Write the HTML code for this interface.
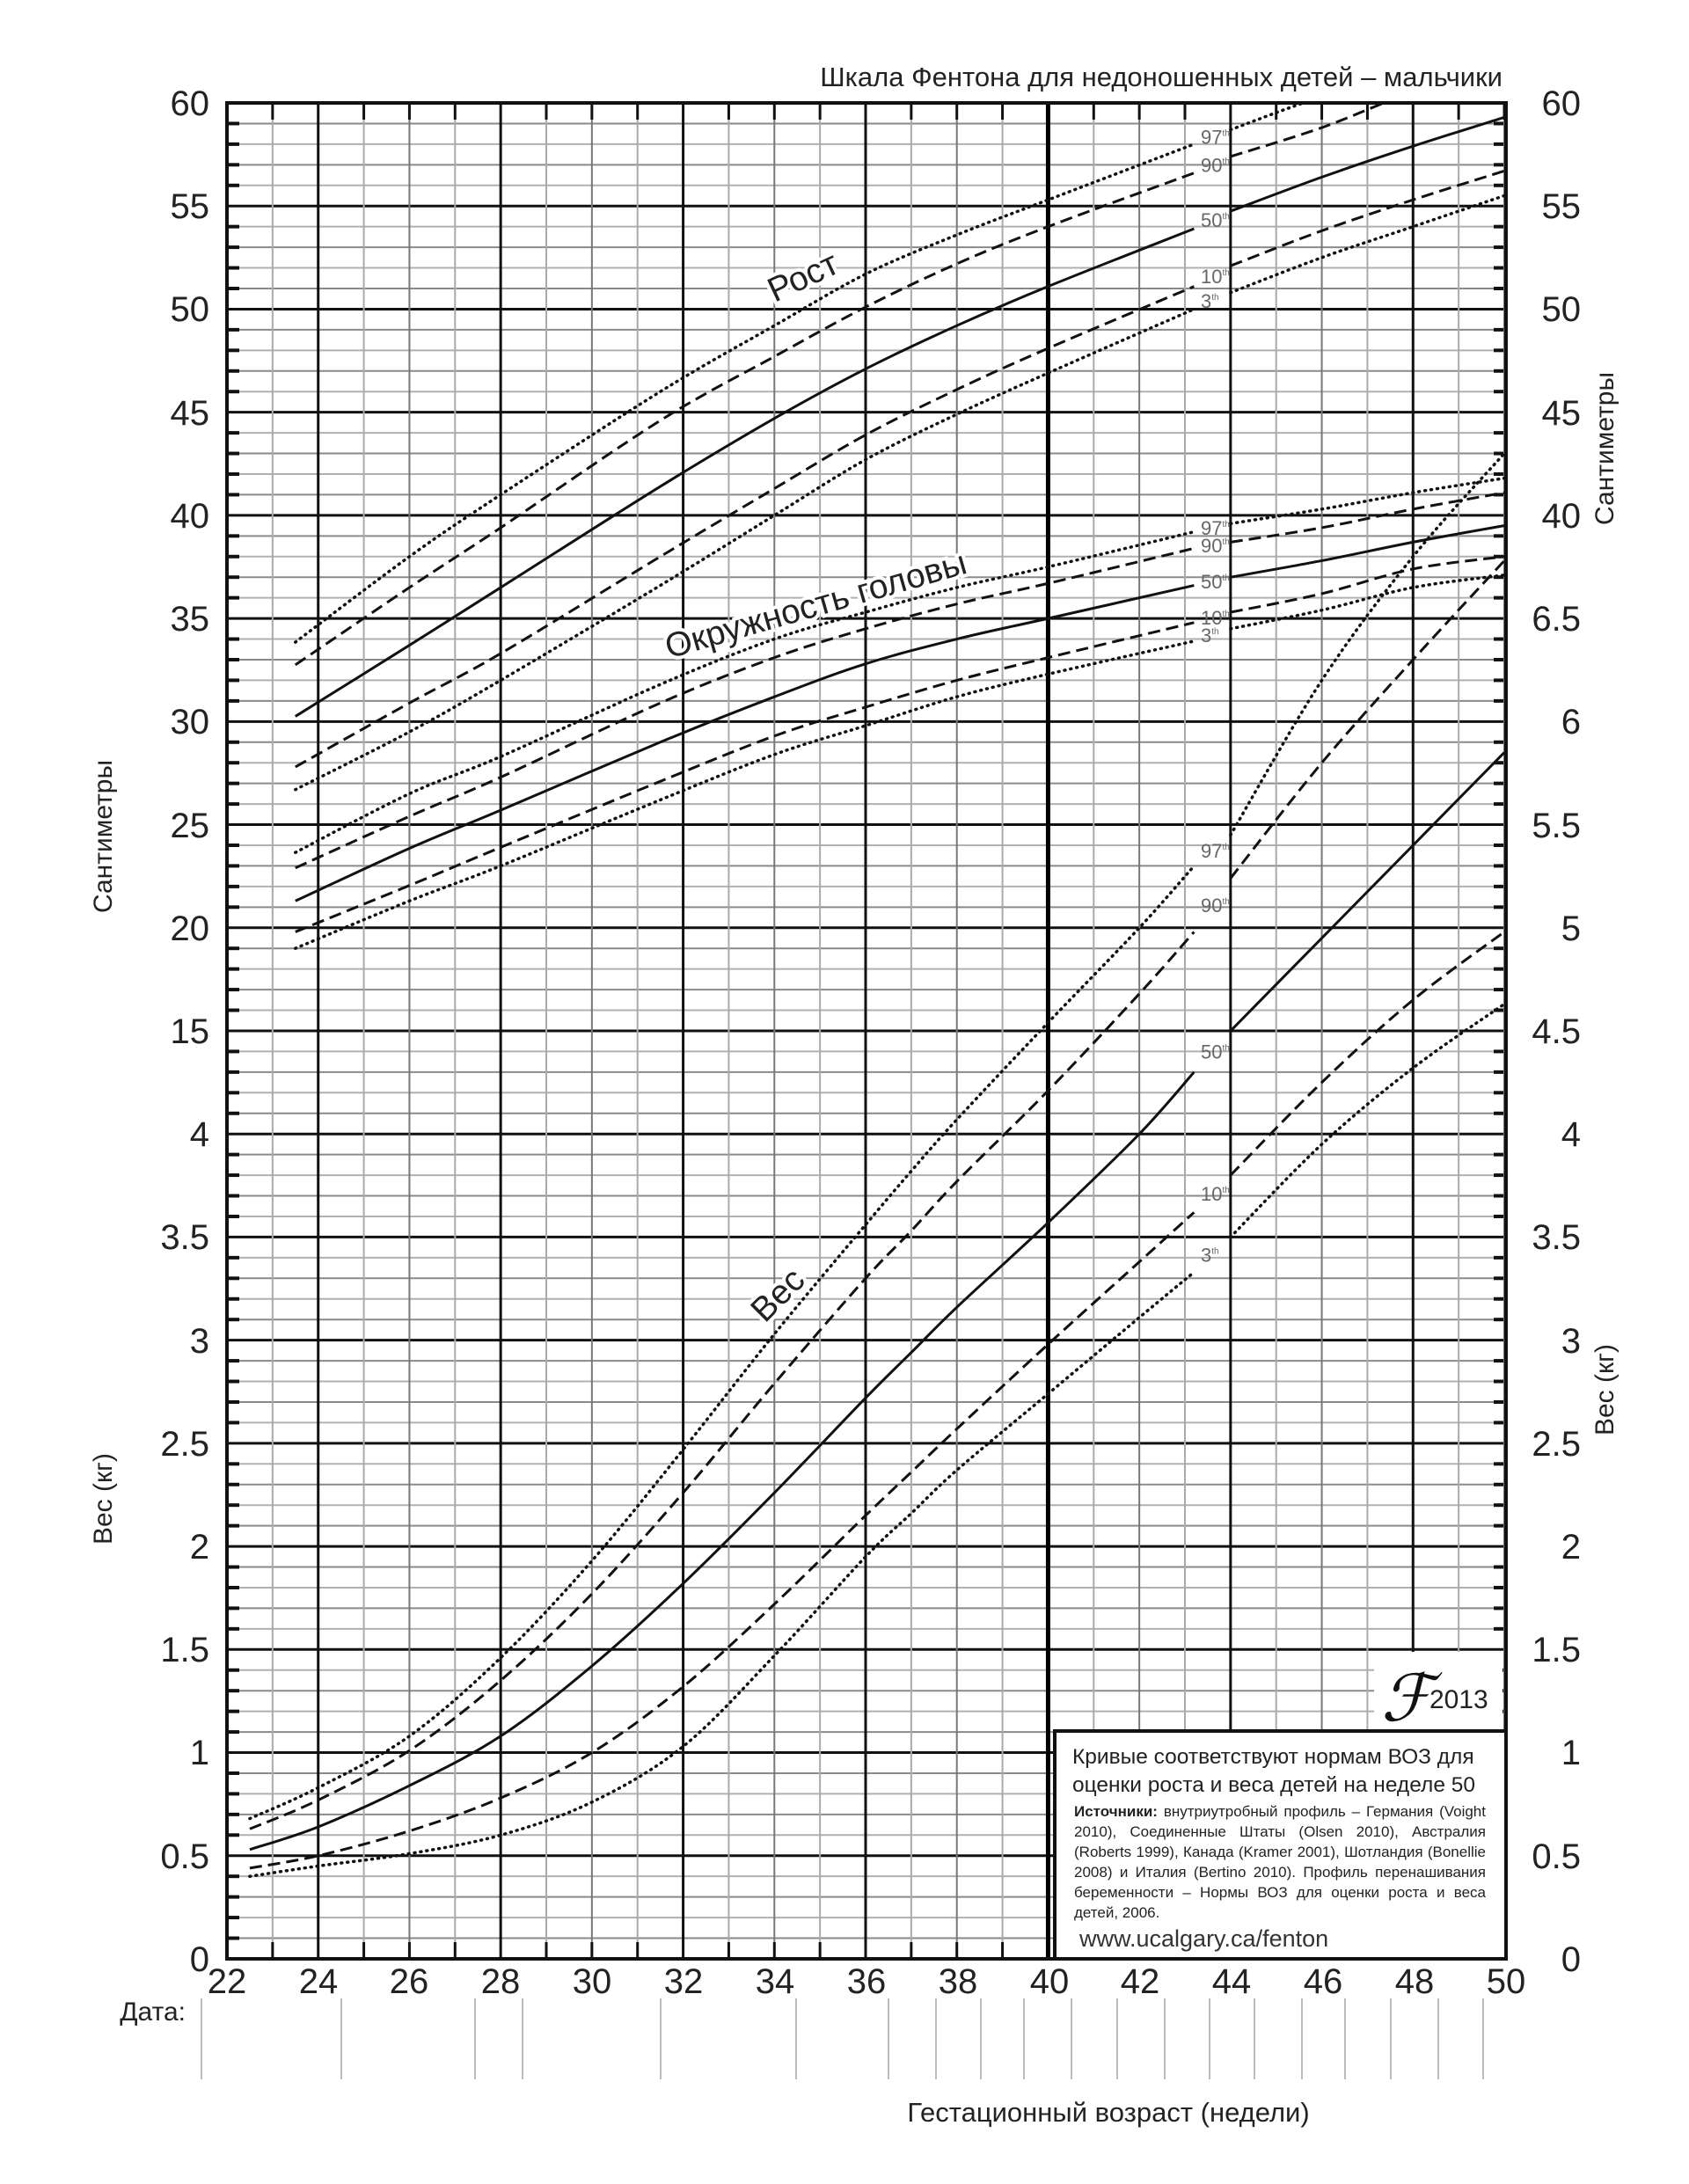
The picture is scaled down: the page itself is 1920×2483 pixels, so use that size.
<!DOCTYPE html>
<html><head><meta charset="utf-8"><style>
html,body{margin:0;padding:0;background:#fff;}
svg{display:block}
text{font-family:"Liberation Sans",Arial,sans-serif;}
.box{position:absolute;background:#fff;}
.big{position:absolute;left:18px;font:24.5px "Liberation Sans",sans-serif;color:#222;white-space:nowrap;}
.sm{position:absolute;left:20px;width:468px;font:17px "Liberation Sans Narrow","Liberation Sans",sans-serif;color:#222;text-align:justify;text-align-last:justify;white-space:nowrap;height:23px;line-height:23px}
</style></head><body>
<div style="position:relative;width:1920px;height:2483px;overflow:hidden">
<svg id="s" width="1920" height="2483" xmlns="http://www.w3.org/2000/svg">
<defs><clipPath id="cp"><rect x="258" y="117" width="1454" height="2110"/></clipPath></defs>
<g id="grid"></g>
<g id="curves" clip-path="url(#cp)"></g>
<rect x="1562" y="1878" width="146" height="88" fill="#fff"/>
<text x="1570" y="1956" font-family="Liberation Serif,serif" font-style="italic" font-size="74" fill="#111">&#x2131;</text>
<text x="1625" y="1942" font-size="30" fill="#222">2013</text>
<rect x="258" y="117" width="1454" height="2110" fill="none" stroke="#111" stroke-width="4"/>
<text x="1708" y="98" font-size="31" text-anchor="end" fill="#222">Шкала Фентона для недоношенных детей  – мальчики</text>
<text transform="translate(914,317) rotate(-25)" font-size="39" text-anchor="middle" dominant-baseline="middle" fill="#222" stroke="#fff" stroke-width="8" paint-order="stroke">Рост</text>
<text transform="translate(928,690) rotate(-16)" font-size="39" text-anchor="middle" dominant-baseline="middle" fill="#222" stroke="#fff" stroke-width="8" paint-order="stroke">Окружность головы</text>
<text transform="translate(886,1474) rotate(-45)" font-size="39" text-anchor="middle" dominant-baseline="middle" fill="#222" stroke="#fff" stroke-width="8" paint-order="stroke">Вес</text>
<text transform="translate(119,951) rotate(-90)" font-size="30" text-anchor="middle" dominant-baseline="middle" fill="#222">Сантиметры</text>
<text transform="translate(1826,510) rotate(-90)" font-size="30" text-anchor="middle" dominant-baseline="middle" fill="#222">Сантиметры</text>
<text transform="translate(119,1704) rotate(-90)" font-size="30" text-anchor="middle" dominant-baseline="middle" fill="#222">Вес (кг)</text>
<text transform="translate(1826,1580) rotate(-90)" font-size="30" text-anchor="middle" dominant-baseline="middle" fill="#222">Вес (кг)</text>
<text x="211" y="2297" font-size="30" text-anchor="end" fill="#222">Дата:</text>
<text x="1260" y="2412" font-size="31" text-anchor="middle" fill="#222">Гестационный возраст (недели)</text>
<g font-size="40" fill="#222" text-anchor="end">
<text x="238" y="131">60</text><text x="238" y="248">55</text><text x="238" y="365">50</text><text x="238" y="483">45</text><text x="238" y="600">40</text><text x="238" y="717">35</text><text x="238" y="834">30</text><text x="238" y="952">25</text><text x="238" y="1069">20</text><text x="238" y="1186">15</text>
<text x="238" y="1303">4</text><text x="238" y="1420">3.5</text><text x="238" y="1538">3</text><text x="238" y="1655">2.5</text><text x="238" y="1772">2</text><text x="238" y="1889">1.5</text><text x="238" y="2006">1</text><text x="238" y="2124">0.5</text><text x="238" y="2241">0</text>
<text x="1797" y="131">60</text><text x="1797" y="248">55</text><text x="1797" y="365">50</text><text x="1797" y="483">45</text><text x="1797" y="600">40</text><text x="1797" y="717">6.5</text><text x="1797" y="834">6</text><text x="1797" y="952">5.5</text><text x="1797" y="1069">5</text><text x="1797" y="1186">4.5</text>
<text x="1797" y="1303">4</text><text x="1797" y="1420">3.5</text><text x="1797" y="1538">3</text><text x="1797" y="1655">2.5</text><text x="1797" y="1772">2</text><text x="1797" y="1889">1.5</text><text x="1797" y="2006">1</text><text x="1797" y="2124">0.5</text><text x="1797" y="2241">0</text>
</g>
<g font-size="40" fill="#222" text-anchor="middle">
<text x="258" y="2266">22</text><text x="362" y="2266">24</text><text x="465" y="2266">26</text><text x="569" y="2266">28</text><text x="673" y="2266">30</text><text x="777" y="2266">32</text><text x="881" y="2266">34</text><text x="985" y="2266">36</text><text x="1089" y="2266">38</text><text x="1193" y="2266">40</text><text x="1296" y="2266">42</text><text x="1400" y="2266">44</text><text x="1504" y="2266">46</text><text x="1608" y="2266">48</text><text x="1712" y="2266">50</text>
</g>
<g id="pl" font-size="22" fill="#666"></g>
</svg>
<div class="box" style="border:4px solid #111;box-sizing:border-box;left:1197px;top:1966px;width:517px;height:263px">
<div class="big" style="top:14px">Кривые соответствуют нормам ВОЗ для</div>
<div class="big" style="top:46px">оценки роста и веса детей на неделе 50</div>
<div class="sm" style="top:78px"><b>Источники:</b> внутриутробный профиль – Германия (Voight</div>
<div class="sm" style="top:101px">2010), Соединенные Штаты (Olsen 2010), Австралия</div>
<div class="sm" style="top:124px">(Roberts 1999), Канада (Kramer 2001), Шотландия (Bonellie</div>
<div class="sm" style="top:147px">2008) и Италия (Bertino 2010). Профиль перенашивания</div>
<div class="sm" style="top:170px">беременности – Нормы ВОЗ для оценки роста и веса</div>
<div class="sm" style="top:193px;text-align-last:left">детей, 2006.</div>
<div class="big" style="top:219px;left:26px;font-size:27px;color:#333">www.ucalgary.ca/fenton</div>
</div>
</div>
<script>
var NS="http://www.w3.org/2000/svg";
function el(p,t,a){var e=document.createElementNS(NS,t);for(var k in a)e.setAttribute(k,a[k]);p.appendChild(e);return e;}
var X=function(w){return 258+(w-22)*51.857;};
var YC=function(c){return 117+(60-c)*23.444;};
var YK=function(k){return 2227-k*234.44;};
var g=document.getElementById('grid');
for(var i=0;i<=90;i++){var y=117+i*23.444;var maj=(i%5==0);
 el(g,'line',{x1:258,x2:1712,y1:y,y2:y,stroke:maj?'#111':(i%2?'#8a8a8a':'#b0b0b0'),'stroke-width':maj?3:2});
 if(!maj){el(g,'line',{x1:258,x2:272,y1:y,y2:y,stroke:'#111','stroke-width':4});el(g,'line',{x1:1698,x2:1712,y1:y,y2:y,stroke:'#111','stroke-width':4});}}
for(var w=22;w<=50;w++){var x=X(w);var c,sw;
 if(w==40){c='#000';sw=5;}else if(w%4==0){c='#111';sw=3;}else if(w%2==0){c='#777';sw=2;}else{c='#aaa';sw=2;}
 el(g,'line',{x1:x,x2:x,y1:117,y2:2227,stroke:c,'stroke-width':sw});
 if(w%4!=0){el(g,'line',{x1:x,x2:x,y1:117,y2:136,stroke:'#111','stroke-width':3});el(g,'line',{x1:x,x2:x,y1:2208,y2:2227,stroke:'#111','stroke-width':3});}}
[229,388,540,594,751,905,1010,1064,1115,1164,1218,1270,1324,1375,1426,1480,1529,1581,1635,1686].forEach(function(x){el(g,'line',{x1:x,x2:x,y1:2272,y2:2364,stroke:'#bbb','stroke-width':2});});
function path(pts){var d='M'+pts[0][0]+','+pts[0][1];
 for(var i=0;i<pts.length-1;i++){var p0=pts[i-1]||pts[i],p1=pts[i],p2=pts[i+1],p3=pts[i+2]||p2;
  var c1=[p1[0]+(p2[0]-p0[0])/6,p1[1]+(p2[1]-p0[1])/6],c2=[p2[0]-(p3[0]-p1[0])/6,p2[1]-(p3[1]-p1[1])/6];
  d+=' C'+c1+' '+c2+' '+p2;}return d;}
var cv=document.getElementById('curves');
var sty={s:{},d:{'stroke-dasharray':'14 7'},o:{'stroke-dasharray':'1 6','stroke-linecap':'round','stroke-width':3.5}};
function draw(ws,vals,Y,st){var pts=ws.map(function(w,i){return[X(w),Y(vals[i])];});
 var a=[],b=[];ws.forEach(function(w,i){if(w<=43.25)a.push(pts[i]);else b.push(pts[i]);});
 [a,b].forEach(function(p){if(p.length<2)return;var at={d:path(p),fill:'none',stroke:'#111','stroke-width':3};for(var k in sty[st])at[k]=sty[st][k];el(cv,'path',at);});}
var LW=[23.5,26,28,31.5,34,36,38,40,43.2,44,46,48,50];
var L={97:[33.85,38.0,41.0,46.0,49.2,51.7,53.6,55.3,58.0,58.7,60.3,61.5,62.5],90:[32.75,36.5,39.4,44.6,47.7,50.1,52.2,54.0,56.6,57.4,58.8,60.5,61.5],50:[30.25,33.7,36.5,41.4,44.7,47.1,49.2,51.1,53.9,54.75,56.4,57.9,59.3],10:[27.8,30.9,33.3,38.0,41.3,43.9,46.1,48.1,51.1,52.1,53.8,55.3,56.7],3:[26.7,29.5,32.0,36.6,40.0,42.7,44.9,46.9,50.0,50.8,52.5,54.0,55.5]};
var H={97:[23.65,26.5,28.3,31.8,34.0,35.3,36.5,37.5,39.2,39.6,40.3,41.1,41.8],90:[22.9,25.4,27.3,30.9,33.1,34.5,35.7,36.7,38.4,38.7,39.4,40.3,41.1],50:[21.3,23.85,25.7,29.0,31.2,32.8,34.0,35.0,36.6,37.0,37.8,38.7,39.5],10:[19.8,22.05,23.9,27.1,29.3,30.7,32.0,33.1,34.8,35.3,36.2,37.4,38.0],3:[19.0,21.3,23.0,26.2,28.4,29.8,31.2,32.3,33.9,34.5,35.4,36.5,37.1]};
var WW=[22.5,24,26,28,30,32,34,36,37,38,40,42,43.2,44,46,48,50];
var W={97:[.68,.83,1.08,1.46,1.93,2.47,3.03,3.56,3.82,4.07,4.54,5.0,5.3,5.45,6.2,6.8,7.3],90:[.63,.77,1.01,1.35,1.77,2.26,2.79,3.30,3.53,3.77,4.21,4.68,4.98,5.24,5.8,6.3,6.78],50:[.53,.64,.84,1.08,1.42,1.82,2.26,2.72,2.94,3.16,3.57,4.0,4.3,4.5,4.95,5.4,5.85],10:[.44,.50,.62,.78,1.0,1.32,1.72,2.15,2.36,2.57,2.98,3.38,3.62,3.8,4.25,4.65,4.98],3:[.40,.45,.51,.60,.76,1.03,1.47,1.95,2.16,2.37,2.74,3.11,3.33,3.5,3.95,4.32,4.63]};
var ST={97:'o',90:'d',50:'s',10:'d',3:'o'};
var pl=document.getElementById('pl');
function lab(p,y){var t=el(pl,'text',{x:1365,y:y+8});t.textContent=p;var s=el(t,'tspan',{'font-size':10,dy:-9});s.textContent='th';}
[97,90,50,10,3].forEach(function(p){draw(LW,L[p],YC,ST[p]);draw(LW,H[p],YC,ST[p]);draw(WW,W[p],YK,ST[p]);
 lab(p,(YC(L[p][8])+YC(L[p][9]))/2);lab(p,(YC(H[p][8])+YC(H[p][9]))/2);lab(p,(YK(W[p][12])+YK(W[p][13]))/2);});
</script>
</body></html>
